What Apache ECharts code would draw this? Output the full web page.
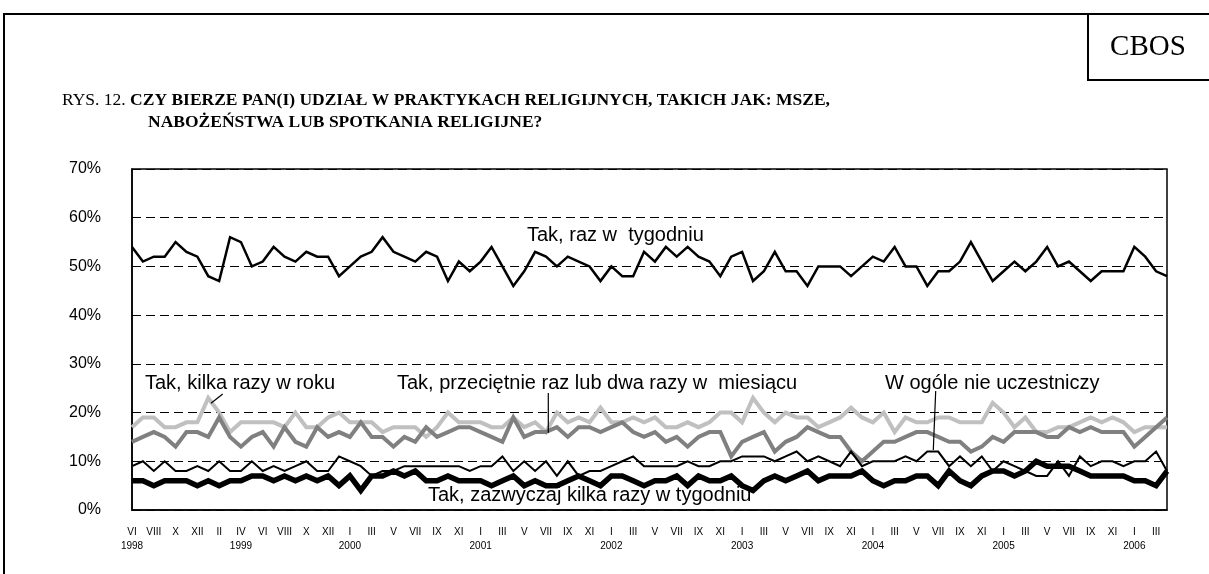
<!DOCTYPE html>
<html><head><meta charset="utf-8">
<script src="https://cdn.jsdelivr.net/npm/echarts@6/dist/echarts.min.js"></script>
<style>html,body{margin:0;padding:0;background:#fff}#c{width:1209px;height:574px}</style>
</head><body><div id="c"></div>
<script>
// Category (month) labels, VI 1998 – IV 2006 (one extra survey at end of 1999)
const months = [
 'VI','VII','VIII','IX','X','XI','XII',
 'I','II','III','IV','V','VI','VII','VIII','IX','X','XI','XII','XII',
 'I','II','III','IV','V','VI','VII','VIII','IX','X','XI','XII',
 'I','II','III','IV','V','VI','VII','VIII','IX','X','XI','XII',
 'I','II','III','IV','V','VI','VII','VIII','IX','X','XI','XII',
 'I','II','III','IV','V','VI','VII','VIII','IX','X','XI','XII',
 'I','II','III','IV','V','VI','VII','VIII','IX','X','XI','XII',
 'I','II','III','IV','V','VI','VII','VIII','IX','X','XI','XII',
 'I','II','III','IV'
];
const yearIdx = [0,10,20,32,44,56,68,80,92];
const yearTxt = ['1998','1999','2000','2001','2002','2003','2004','2005','2006'];
const yTicks = [0,10,20,30,40,50,60,70];

// Series values (%)
const razWTygodniu = [54,51,52,52,55,53,52,48,47,56,55,50,51,54,52,51,53,52,52,48,50,52,53,56,
 53,52,51,53,52,47,51,49,51,54,50,46,49,53,52,50,52,51,50,47,50,48,48,53,
 51,54,52,54,52,51,48,52,53,47,49,53,49,49,46,50,50,50,48,50,52,51,54,50,
 50,46,49,49,51,55,51,47,49,51,49,51,54,50,51,49,47,49,49,49,54,52,49,48];
const kilkaRazyWRoku = [17,19,19,17,17,18,18,23,20,16,18,18,18,18,17,20,17,17,19,20,18,18,18,16,
 17,17,17,15,17,20,18,18,18,17,17,19,17,18,16,20,18,19,18,21,18,18,19,18,
 19,17,17,18,17,18,20,20,18,23,20,18,20,19,19,17,18,19,21,19,18,20,16,19,
 18,18,19,19,18,18,18,22,20,17,19,16,16,17,17,18,19,18,19,18,16,17,17,17];
const razLubDwaWMiesiacu = [14,15,16,15,13,16,16,15,19,15,13,15,16,13,17,14,13,17,15,16,15,18,15,15,
 13,15,14,17,15,16,17,17,16,15,14,19,15,16,16,17,15,17,17,16,17,18,16,15,
 16,14,15,13,15,16,16,11,14,15,16,12,14,15,17,16,15,15,12,10,12,14,14,15,
 16,16,15,14,14,12,13,15,14,16,16,16,15,15,17,16,17,16,16,16,13,15,17,19];
const wOgoleNie = [9,10,8,10,8,8,9,8,10,8,8,10,8,9,8,9,10,8,8,11,10,9,7,8,
 8,9,9,9,9,9,9,8,9,9,11,8,10,8,10,7,10,7,8,8,9,10,11,9,
 9,9,9,10,9,9,10,10,11,11,11,10,11,12,10,11,10,9,12,9,10,10,10,11,
 10,12,12,9,11,9,11,8,10,9,8,7,7,10,7,11,9,10,10,9,10,10,12,8];
const kilkaRazyWTygodniu = [6,6,5,6,6,6,5,6,5,6,6,7,7,6,7,6,7,6,7,5,7,4,7,7,
 8,7,8,6,6,7,6,6,6,5,6,7,5,6,5,5,6,7,6,5,7,7,6,5,
 6,6,7,5,7,6,6,7,5,4,6,7,6,7,8,6,7,7,7,8,6,5,6,6,
 7,7,5,8,6,5,7,8,8,7,8,10,9,9,9,8,7,7,7,7,6,6,5,8];

const SANS = '"Liberation Sans", Arial, sans-serif';
const SERIF = '"Liberation Serif", "Times New Roman", serif';

const chart = echarts.init(document.getElementById('c'), null, {renderer: 'canvas'});
function ln(name, data, color, width, z) {
  return {name, type: 'line', data, showSymbol: false, symbol: 'none', z,
    lineStyle: {color, width, join: 'miter'}, emphasis: {disabled: true}};
}
const annot = (text, x, y) => ({type: 'text', z: 50, style: {text, x, y, font: '20px ' + SANS, fill: '#000', verticalAlign: 'middle'}});
const seg = (x1, y1, x2, y2) => ({type: 'line', z: 50, shape: {x1, y1, x2, y2}, style: {stroke: '#000', lineWidth: 1.2}});

chart.setOption({
  animation: false,
  backgroundColor: '#fff',
  grid: {left: 132, top: 169, right: 42, bottom: 64, show: true, borderColor: '#000', borderWidth: 1.5, backgroundColor: 'transparent'},
  xAxis: {
    type: 'category', data: months, boundaryGap: false,
    axisLine: {lineStyle: {color: '#000', width: 1.5}},
    axisTick: {show: false},
    axisLabel: {interval: 1, margin: 15, color: '#000', fontFamily: SANS, fontSize: 10, lineHeight: 14,
      formatter: (v, i) => { const k = yearIdx.indexOf(i); return k >= 0 ? v + '\n' + yearTxt[k] : v; }}
  },
  yAxis: {
    type: 'value', min: yTicks[0], max: yTicks[yTicks.length - 1], interval: 10,
    axisLine: {show: true, lineStyle: {color: '#000', width: 1.5}},
    axisTick: {show: false},
    axisLabel: {margin: 31, color: '#000', fontFamily: SANS, fontSize: 16, formatter: '{value}%'},
    splitLine: {show: true, lineStyle: {color: '#000', width: 1, type: [9, 5]}}
  },
  series: [
    ln('Tak, raz w tygodniu', razWTygodniu, '#000', 2.5, 5),
    ln('Tak, zazwyczaj kilka razy w tygodniu', kilkaRazyWTygodniu, '#000', 5.5, 3),
    ln('Tak, kilka razy w roku', kilkaRazyWRoku, '#c0c0c0', 4, 2),
    ln('Tak, przeciętnie raz lub dwa razy w miesiącu', razLubDwaWMiesiacu, '#808080', 4, 3),
    ln('W ogóle nie uczestniczy', wOgoleNie, '#000', 2, 4)
  ],
  graphic: [
    {type: 'polyline', shape: {points: [[4, 574], [4, 14], [1209, 14]]}, style: {stroke: '#000', lineWidth: 2, fill: null}},
    {type: 'polyline', shape: {points: [[1088, 14], [1088, 80], [1209, 80]]}, style: {stroke: '#000', lineWidth: 2, fill: null}},
    {type: 'text', style: {text: 'CBOS', x: 1148, y: 47, font: '29px ' + SERIF, fill: '#000', align: 'center', verticalAlign: 'middle'}},
    {type: 'text', style: {x: 62, y: 100, verticalAlign: 'middle', fill: '#000',
      text: '{n|RYS. 12. }{b|CZY BIERZE PAN(I) UDZIAŁ W PRAKTYKACH RELIGIJNYCH, TAKICH JAK: MSZE,}',
      rich: {n: {font: '17.5px ' + SERIF, fill: '#000'}, b: {font: 'bold 17.5px ' + SERIF, fill: '#000'}}}},
    {type: 'text', style: {x: 148, y: 122, verticalAlign: 'middle', fill: '#000',
      text: 'NABOŻEŃSTWA LUB SPOTKANIA RELIGIJNE?', font: 'bold 17.5px ' + SERIF}},
    annot('Tak, raz w  tygodniu', 527, 235),
    annot('Tak, kilka razy w roku', 145, 383),
    annot('Tak, przeciętnie raz lub dwa razy w  miesiącu', 397, 383),
    annot('W ogóle nie uczestniczy', 885, 383),
    annot('Tak, zazwyczaj kilka razy w tygodniu', 428, 495),
    seg(222.7, 394, 211, 403.3),
    seg(548.3, 393, 548.3, 432.7),
    seg(935.7, 391, 933.3, 450)
  ]
});
</script>
</body></html>
